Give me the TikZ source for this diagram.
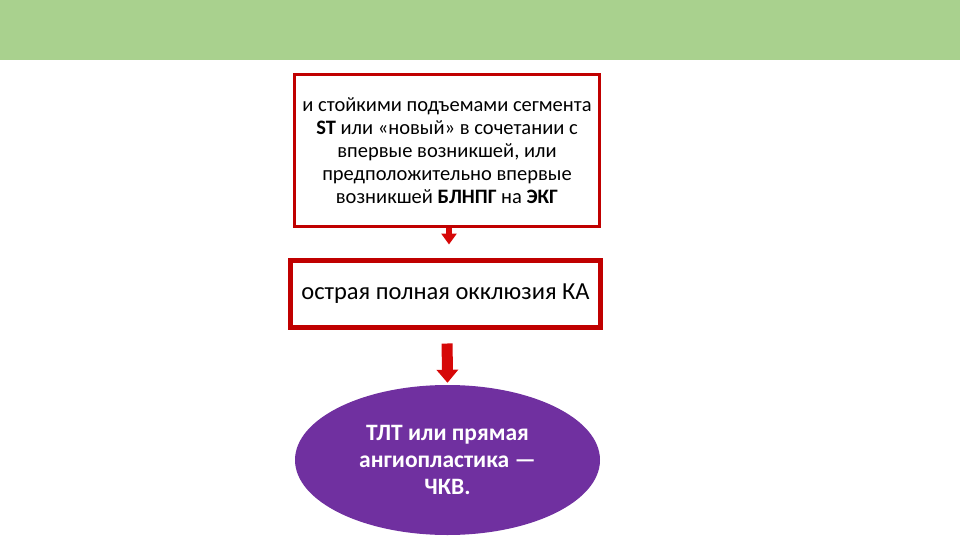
\documentclass[tikz,border=0pt]{standalone}
\usepackage{fontspec}
\setmainfont{Carlito}
\usetikzlibrary{shapes.geometric, arrows.meta}

\definecolor{bandgreen}{RGB}{169,209,142}
\definecolor{boxred}{RGB}{192,0,0}
\definecolor{arrowred}{RGB}{214,8,8}
\definecolor{ovalpurple}{RGB}{112,48,160}

\tikzset{
    ecgbox/.style={draw=boxred, fill=white, align=center, inner sep=0pt},
    blockarrow/.style={arrowred, shorten >=#1},
}

\begin{document}
\begin{tikzpicture}[x=1pt, y=-1pt]
    \useasboundingbox (0,0) rectangle (960,540);
    \fill[bandgreen] (0,0) rectangle (960,60);

    \node[ecgbox, line width=3pt, minimum width=305pt, minimum height=152pt,
        font=\fontsize{20.5}{23}\selectfont] (sign) at (447,150.5)
        {и стойкими подъемами сегмента\\
         \textbf{ST} или «новый» в сочетании с\\
         впервые возникшей, или\\
         предположительно впервые\\
         возникшей \textbf{БЛНПГ} на \textbf{ЭКГ}};
    \node[ecgbox, line width=5pt, minimum width=310pt, minimum height=67pt,
        font=\fontsize{24.5}{28}\selectfont] (occl) at (445.5,294)
        {острая полная окклюзия КА};
    \node[ellipse, fill=ovalpurple, text=white, align=center, inner sep=0pt,
        minimum width=305pt, minimum height=150pt,
        font=\bfseries\fontsize{23.5}{27}\selectfont] (pci) at (447.5,460)
        {ТЛТ или прямая\\ ангиопластика —\\ ЧКВ.};

    \draw[blockarrow=13.5pt, line width=6pt, -{Triangle[width=15pt, length=11pt]}]
        ([xshift=2pt]sign.south) -- ([xshift=3.5pt]occl.north);
    \draw[blockarrow=2pt, line width=11pt, shorten <=13.5pt,
        -{Triangle[width=21pt, length=13pt]}]
        ([xshift=1.5pt]occl.south) -- (pci.north);
\end{tikzpicture}
\end{document}
